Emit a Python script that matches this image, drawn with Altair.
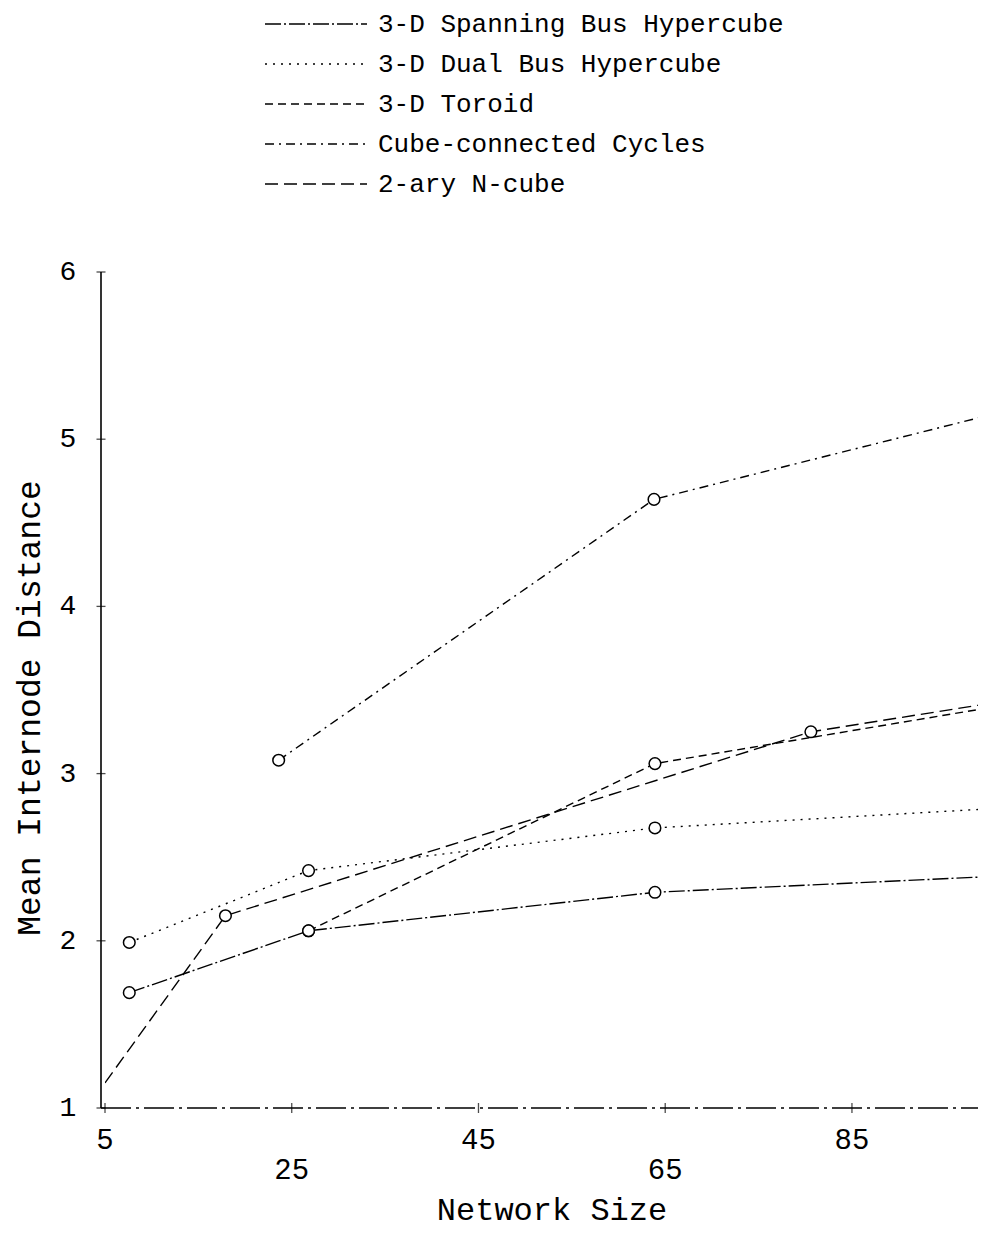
import altair as alt
import pandas as pd

FONT = "Liberation Mono"

series_names = [
    "3-D Spanning Bus Hypercube",
    "3-D Dual Bus Hypercube",
    "3-D Toroid",
    "Cube-connected Cycles",
    "2-ary N-cube",
]
series_dashes = [[16, 3, 2, 3], [2, 6], [8, 5], [9, 5, 2, 5], [13, 6]]

# values (last points lie beyond the right edge)
spanning_x = [7.6, 26.8, 63.9, 125]
spanning_y = [1.69, 2.06, 2.29, 2.45]
spanning_m = [1, 1, 1, 0]

dual_x = [7.6, 26.8, 63.9, 125]
dual_y = [1.99, 2.42, 2.675, 2.87]
dual_m = [1, 1, 1, 0]

toroid_x = [26.8, 63.9, 125]
toroid_y = [2.06, 3.06, 3.63]
toroid_m = [1, 1, 0]

ccc_x = [23.6, 63.8, 160]
ccc_y = [3.08, 4.64, 5.99]
ccc_m = [1, 1, 0]

ncube_x = [5, 17.9, 80.6, 128]
ncube_y = [1.15, 2.15, 3.25, 3.67]
ncube_m = [0, 1, 1, 0]

x_ticks_row1 = [5, 45, 85]
x_ticks_row2 = [25, 65]
y_ticks = [1, 2, 3, 4, 5, 6]

rows = []
for name, xs, ys, ms in zip(
    series_names,
    [spanning_x, dual_x, toroid_x, ccc_x, ncube_x],
    [spanning_y, dual_y, toroid_y, ccc_y, ncube_y],
    [spanning_m, dual_m, toroid_m, ccc_m, ncube_m],
):
    for i, (a, b, m) in enumerate(zip(xs, ys, ms)):
        rows.append({"series": name, "x": a, "y": b, "marker": m, "idx": i})
df = pd.DataFrame(rows)

W, H = 873, 836
xscale = alt.Scale(domain=[5, 98.5], nice=False, zero=False)
yscale = alt.Scale(domain=[1, 6], nice=False, zero=False)
dash_scale = alt.Scale(domain=series_names, range=series_dashes)

lines = alt.Chart(df).mark_line(clip=True, color="black", strokeWidth=1.4).encode(
    x=alt.X("x:Q", scale=xscale, axis=None),
    y=alt.Y("y:Q", scale=yscale, axis=None),
    strokeDash=alt.StrokeDash("series:N", scale=dash_scale, legend=None),
    detail="series:N",
    order="idx:Q",
)

points = alt.Chart(df).transform_filter("datum.marker == 1").mark_point(
    shape="circle", filled=True, fill="white", stroke="black",
    strokeWidth=1.5, size=135, opacity=1, clip=True
).encode(
    x=alt.X("x:Q", scale=xscale, axis=None),
    y=alt.Y("y:Q", scale=yscale, axis=None),
)

one = pd.DataFrame({"a": [0]})

y_axis_line = alt.Chart(one).mark_rule(color="black", strokeWidth=1.6).encode(
    x=alt.value(-4), y=alt.value(0), y2=alt.value(H)
)
x_axis_line = alt.Chart(one).mark_rule(color="black", strokeWidth=1.3, strokeDash=[30, 5, 3, 5]).encode(
    x=alt.value(-4), x2=alt.value(W + 20), y=alt.value(H)
)

ytick_df = pd.DataFrame({"v": y_ticks, "lab": [str(v) for v in y_ticks]})
y_tick_marks = alt.Chart(ytick_df).mark_tick(orient="horizontal", color="black", size=9, thickness=1.3).encode(
    y=alt.Y("v:Q", scale=yscale, axis=None), x=alt.value(-4)
)
y_tick_labels = alt.Chart(ytick_df).mark_text(font=FONT, fontSize=28, align="center", baseline="middle").encode(
    y=alt.Y("v:Q", scale=yscale, axis=None), x=alt.value(-37), text="lab:N"
)

xt_all = x_ticks_row1 + x_ticks_row2
xtick_df = pd.DataFrame({"v": xt_all})
x_tick_marks = alt.Chart(xtick_df).mark_tick(orient="vertical", color="black", size=10, thickness=1.3).encode(
    x=alt.X("v:Q", scale=xscale, axis=None), y=alt.value(H)
)
x1_df = pd.DataFrame({"v": x_ticks_row1, "lab": [str(v) for v in x_ticks_row1]})
x2_df = pd.DataFrame({"v": x_ticks_row2, "lab": [str(v) for v in x_ticks_row2]})
x_labels1 = alt.Chart(x1_df).mark_text(font=FONT, fontSize=29, align="center", baseline="middle").encode(
    x=alt.X("v:Q", scale=xscale, axis=None), y=alt.value(868), text="lab:N"
)
x_labels2 = alt.Chart(x2_df).mark_text(font=FONT, fontSize=29, align="center", baseline="middle").encode(
    x=alt.X("v:Q", scale=xscale, axis=None), y=alt.value(898), text="lab:N"
)

x_title = alt.Chart(pd.DataFrame({"t": ["Network Size"]})).mark_text(
    font=FONT, fontSize=32, align="center", baseline="middle"
).encode(x=alt.value(447), y=alt.value(938), text="t:N")
y_title = alt.Chart(pd.DataFrame({"t": ["Mean Internode Distance"]})).mark_text(
    font=FONT, fontSize=33, align="center", baseline="middle", angle=270
).encode(x=alt.value(-75), y=alt.value(436), text="t:N")

legend_df = pd.DataFrame({"series": series_names, "row": list(range(len(series_names)))})
leg_y = alt.Scale(domain=[0, 4], range=[-248, -88])
legend_lines = alt.Chart(legend_df).mark_rule(color="black", strokeWidth=1.4).encode(
    x=alt.value(160), x2=alt.value(262),
    y=alt.Y("row:Q", scale=leg_y, axis=None),
    strokeDash=alt.StrokeDash("series:N", scale=dash_scale, legend=None),
)
legend_text = alt.Chart(legend_df).mark_text(
    font=FONT, fontSize=26, align="left", baseline="middle"
).encode(
    x=alt.value(273), y=alt.Y("row:Q", scale=leg_y, axis=None), text="series:N"
)

chart = alt.layer(
    lines, points, y_axis_line, x_axis_line, y_tick_marks, y_tick_labels,
    x_tick_marks, x_labels1, x_labels2, x_title, y_title, legend_lines, legend_text
).resolve_scale(y="independent").properties(
    width=W, height=H,
    autosize=alt.AutoSizeParams(type="none"),
    padding={"left": 97, "top": 264, "right": 0, "bottom": 124},
    background="white",
).configure_view(strokeWidth=0)

chart.save("out.html", embed_options={"renderer": "svg", "actions": False})
